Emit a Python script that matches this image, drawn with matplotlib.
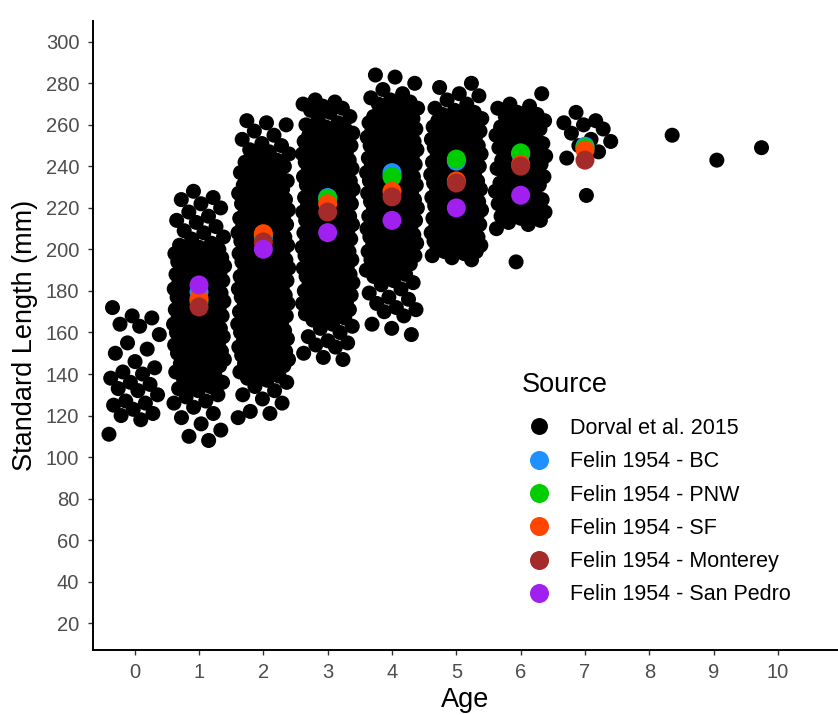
"""Talla estándar vs edad: Dorval et al. 2015 (jitter) + medias de Felin 1954 por región."""
import matplotlib
matplotlib.use("Agg")
import matplotlib.pyplot as plt
import numpy as np
from matplotlib.lines import Line2D

plt.rcParams["font.family"] = ["Liberation Sans", "DejaVu Sans"]

# --- Dorval et al. 2015: tabla de frecuencias ---
# (longitud inicial en mm, nº de peces por cada mm a partir de ella)
AGE0 = [111, 118, 120, 121, 123, 125, 126, 127, 130, 132, 133, 135, 136, 138, 140,
        141, 143, 146, 150, 152, 155, 159, 163, 164, 167, 168, 172]
AGE1_START = 108
AGE1_COUNTS = [1, 0, 1, 0, 0, 1, 0, 0, 1, 0,
               0, 1, 0, 1, 0, 0, 1, 0, 1, 1,
               0, 1, 1, 0, 1, 1, 1, 1, 1, 1,
               1, 1, 1, 1, 1, 1, 1, 2, 1, 2,
               2, 2, 2, 2, 2, 2, 2, 2, 2, 2,
               2, 2, 2, 2, 2, 2, 2, 2, 2, 2,
               2, 2, 2, 2, 2, 2, 2, 2, 2, 2,
               2, 2, 2, 2, 2, 2, 2, 2, 2, 2,
               2, 2, 2, 2, 2, 2, 2, 2, 2, 2,
               2, 2, 1, 1, 1, 1, 0, 1, 1, 0,
               1, 1, 0, 1, 0, 1, 1, 0, 1, 0,
               1, 0, 1, 0, 1, 0, 1, 1, 0, 0,
               1]
AGE2_START = 119
AGE2_COUNTS = [1, 0, 1, 1, 0, 0, 0, 1, 0, 1,
               0, 1, 0, 1, 0, 1, 0, 1, 1, 1,
               1, 1, 1, 1, 1, 2, 1, 2, 2, 2,
               2, 2, 2, 2, 2, 2, 2, 2, 2, 2,
               2, 2, 2, 2, 2, 2, 2, 2, 2, 2,
               2, 2, 2, 2, 2, 2, 2, 2, 2, 2,
               2, 2, 2, 2, 2, 2, 2, 2, 2, 2,
               2, 2, 2, 2, 2, 2, 2, 2, 2, 2,
               2, 2, 2, 2, 2, 2, 2, 2, 2, 2,
               2, 2, 2, 2, 2, 2, 2, 2, 2, 2,
               2, 2, 1, 2, 1, 2, 1, 2, 1, 1,
               2, 1, 1, 2, 1, 1, 1, 2, 1, 1,
               1, 1, 1, 1, 1, 0, 1, 1, 1, 1,
               0, 1, 1, 0, 1, 0, 1, 0, 1, 0,
               0, 1, 1, 1]
AGE3_START = 147
AGE3_COUNTS = [1, 1, 0, 1, 0, 0, 1, 1, 1, 1,
               0, 1, 0, 1, 0, 1, 1, 1, 0, 1,
               1, 1, 1, 1, 2, 2, 2, 2, 2, 2,
               2, 2, 2, 2, 2, 2, 2, 2, 2, 2,
               2, 2, 2, 2, 2, 2, 2, 2, 2, 2,
               2, 2, 2, 2, 2, 2, 2, 2, 2, 2,
               2, 2, 2, 2, 2, 2, 2, 2, 2, 2,
               2, 2, 2, 2, 2, 2, 2, 2, 2, 2,
               2, 2, 2, 2, 2, 2, 2, 2, 2, 2,
               2, 2, 2, 2, 2, 2, 2, 2, 2, 2,
               2, 2, 2, 2, 2, 2, 2, 2, 2, 2,
               2, 1, 1, 1, 1, 0, 1, 1, 0, 1,
               1, 1, 1, 1, 1, 1]
AGE4_START = 159
AGE4_COUNTS = [1, 0, 0, 1, 0, 1, 0, 0, 0, 1,
               0, 1, 1, 1, 0, 1, 0, 1, 1, 0,
               1, 0, 1, 0, 1, 1, 1, 0, 1, 1,
               1, 1, 1, 1, 1, 1, 2, 1, 2, 2,
               2, 2, 2, 2, 2, 2, 2, 2, 2, 2,
               2, 2, 2, 2, 2, 2, 2, 2, 2, 2,
               2, 2, 2, 2, 2, 2, 2, 2, 2, 2,
               2, 2, 2, 2, 2, 2, 2, 2, 2, 2,
               2, 2, 2, 2, 2, 2, 2, 2, 2, 2,
               2, 2, 2, 2, 2, 2, 2, 2, 2, 2,
               2, 2, 2, 1, 2, 1, 1, 1, 0, 1,
               1, 1, 1, 1, 1, 0, 1, 0, 1, 0,
               0, 1, 0, 0, 1, 1]
AGE5_START = 195
AGE5_COUNTS = [1, 1, 1, 1, 2, 2, 2, 2, 2, 2,
               2, 2, 2, 2, 2, 2, 2, 2, 2, 2,
               2, 2, 2, 2, 2, 2, 2, 2, 2, 2,
               2, 2, 2, 2, 2, 2, 2, 2, 2, 2,
               2, 2, 2, 2, 2, 2, 2, 2, 2, 2,
               2, 2, 2, 2, 2, 2, 2, 2, 2, 2,
               2, 2, 2, 2, 2, 2, 2, 2, 2, 1,
               1, 1, 1, 1, 0, 1, 0, 1, 0, 1,
               1, 0, 0, 1, 0, 1]
AGE6_START = 194
AGE6_COUNTS = [1, 0, 0, 0, 0, 0, 0, 0, 0, 0,
               0, 0, 0, 0, 0, 0, 1, 0, 1, 1,
               1, 1, 1, 2, 1, 1, 1, 2, 1, 1,
               2, 1, 1, 1, 2, 1, 1, 1, 2, 1,
               1, 2, 1, 1, 1, 2, 1, 1, 1, 2,
               1, 1, 2, 1, 1, 1, 2, 1, 1, 1,
               2, 1, 1, 1, 2, 1, 1, 1, 1, 1,
               1, 1, 1, 0, 1, 1, 1, 0, 0, 0,
               0, 1]
AGE7 = [226, 244, 247, 250, 252, 253, 256, 258, 260, 261, 262, 266]
AGE8 = [255]
AGE9 = [243]
AGE10 = [249]

# --- Felin 1954: medias por edad (1..7) y región ---
FELIN_AGES = [1, 2, 3, 4, 5, 6, 7]
FELIN_BC = [179.5, 206, 225, 237, 242.5, 246, 249.7]
FELIN_PNW = [175, 207, 224.5, 235, 243.5, 246.5, 249]
FELIN_SF = [176.3, 207.6, 222, 228, 233, 241, 247.8]
FELIN_MONTEREY = [172.3, 203.6, 218, 225.3, 232, 240.1, 243]
FELIN_SANPEDRO = [182.9, 200.1, 208.1, 214, 220, 226.1, None]

SOURCES = ["Dorval et al. 2015", "Felin 1954 - BC", "Felin 1954 - PNW",
           "Felin 1954 - SF", "Felin 1954 - Monterey", "Felin 1954 - San Pedro"]
COLORS = ["black", "#1E90FF", "#00CD00", "#FF4500", "#A52A2A", "#A020F0"]

JIT = 0.4
GOLDEN = 0.6180339887


def expand(start, counts):
    """Tabla de frecuencias -> una longitud por pez."""
    return np.repeat(np.arange(start, start + len(counts)), counts)


def main():
    dorval = [np.array(AGE0),
              expand(AGE1_START, AGE1_COUNTS),
              expand(AGE2_START, AGE2_COUNTS),
              expand(AGE3_START, AGE3_COUNTS),
              expand(AGE4_START, AGE4_COUNTS),
              expand(AGE5_START, AGE5_COUNTS),
              expand(AGE6_START, AGE6_COUNTS),
              np.array(AGE7), np.array(AGE8), np.array(AGE9), np.array(AGE10)]

    fig = plt.figure(figsize=(8.38, 7.15), dpi=100)
    ax = fig.add_axes([0.1106, 0.0909, 0.8894, 0.880])

    # puntos de Dorval con jitter determinista en x (como geom_jitter, width=0.4)
    k0 = 0
    for age, lengths in enumerate(dorval):
        k = np.arange(k0, k0 + len(lengths))
        xs = age + JIT * (2 * ((k * GOLDEN) % 1.0) - 1)
        ax.scatter(xs, lengths, s=117, color="black", edgecolors="none", zorder=2)
        k0 += len(lengths)

    felin = [FELIN_BC, FELIN_PNW, FELIN_SF, FELIN_MONTEREY, FELIN_SANPEDRO]
    for vals, col in zip(felin, COLORS[1:]):
        pts = [(a, v) for a, v in zip(FELIN_AGES, vals) if v is not None]
        ax.scatter([p[0] for p in pts], [p[1] for p in pts], s=187, color=col,
                   edgecolors="none", zorder=3)

    ax.set_xlim(-0.653, 10.933)
    ax.set_ylim(7.1, 310.1)
    ax.set_xticks(range(0, 11))
    ax.set_yticks(range(20, 301, 20))
    ax.tick_params(axis="both", labelsize=14.5, labelcolor="#4D4D4D", color="#333333",
                   length=3.6, width=1.0, pad=6)
    for side in ("top", "right"):
        ax.spines[side].set_visible(False)
    for side in ("left", "bottom"):
        ax.spines[side].set_linewidth(1.4)
    ax.set_xlabel("Age", fontsize=19.5, labelpad=3)
    ax.set_ylabel("Standard Length (mm)", fontsize=19.5, labelpad=6)

    # leyenda: título aparte para poder ajustar el hueco
    fig.text(522 / 838, 1 - 385 / 715, "Source", fontsize=19.5, va="center", ha="left")
    handles = [Line2D([], [], marker="o", ls="", color=c, markeredgewidth=0,
                      markersize=12.2 if i == 0 else 13.7)
               for i, c in enumerate(COLORS)]
    leg = ax.legend(handles, SOURCES, loc="upper left",
                    bbox_to_anchor=(523 / 838, 1 - 418 / 715),
                    bbox_transform=fig.transFigure, frameon=False, fontsize=15.5,
                    handlelength=1.5, handletextpad=0.7, labelspacing=0.57,
                    borderpad=0, borderaxespad=0)
    leg.set_zorder(5)

    fig.savefig("out.png", dpi=100)


if __name__ == "__main__":
    main()
